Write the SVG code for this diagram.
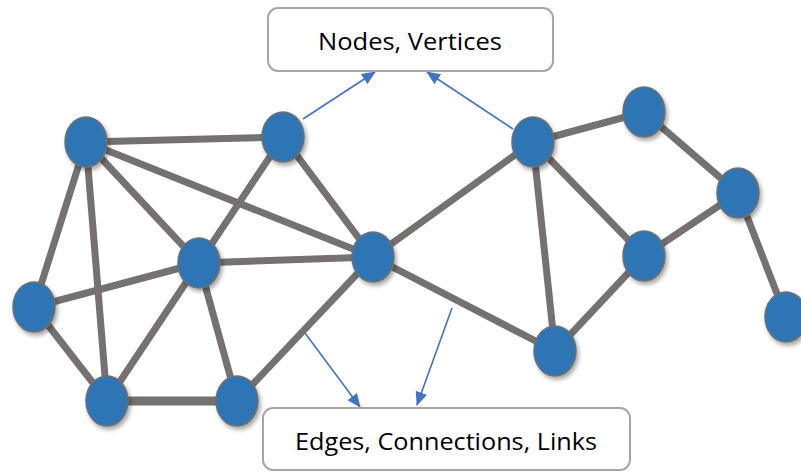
<svg xmlns="http://www.w3.org/2000/svg" width="801" height="472" viewBox="0 0 801 472">
<style>
.edge{stroke:#767171;stroke-width:7;fill:none}
.node{fill:#2E75B6;stroke:#6f6f6f;stroke-width:1.5;filter:url(#sh)}
.arrow{stroke:#4472C4;stroke-width:1.6;fill:none;marker-end:url(#ah)}
.box{fill:#fff;stroke:#a6a6a6;stroke-width:2}
.lbl{font-family:"Open Sans","Liberation Sans",sans-serif;font-size:24px;fill:#000;text-anchor:middle}
</style>
<defs>
<filter id="sh" x="-30%" y="-30%" width="170%" height="170%">
<feDropShadow dx="2" dy="3" stdDeviation="2" flood-color="#000" flood-opacity="0.35"/>
</filter>
<marker id="ah" markerWidth="14" markerHeight="12" refX="13" refY="6" orient="auto" markerUnits="userSpaceOnUse">
<path d="M0,0 L14,6 L0,12 Z" fill="#4472C4"/>
</marker>
</defs>
<g id="connectors">
<line class="edge" x1="86" y1="142" x2="283" y2="137"/>
<line class="edge" x1="86" y1="142" x2="373" y2="257"/>
<line class="edge" x1="86" y1="142" x2="199" y2="263"/>
<line class="edge" x1="86" y1="142" x2="34" y2="307"/>
<line class="edge" x1="86" y1="142" x2="107" y2="401"/>
<line class="edge" x1="283" y1="137" x2="199" y2="263"/>
<line class="edge" x1="283" y1="137" x2="373" y2="257"/>
<line class="edge" x1="199" y1="263" x2="373" y2="257"/>
<line class="edge" x1="199" y1="263" x2="34" y2="307"/>
<line class="edge" x1="199" y1="263" x2="107" y2="401"/>
<line class="edge" x1="199" y1="263" x2="237" y2="401"/>
<line class="edge" x1="34" y1="307" x2="107" y2="401"/>
<line class="edge" x1="107" y1="401" x2="237" y2="401" style="stroke-width:9"/>
<line class="edge" x1="237" y1="401" x2="373" y2="257"/>
<line class="edge" x1="373" y1="257" x2="533" y2="142"/>
<line class="edge" x1="373" y1="257" x2="555" y2="351"/>
<line class="edge" x1="533" y1="142" x2="644" y2="112"/>
<line class="edge" x1="533" y1="142" x2="555" y2="351"/>
<line class="edge" x1="533" y1="142" x2="644" y2="256"/>
<line class="edge" x1="644" y1="112" x2="738" y2="193"/>
<line class="edge" x1="738" y1="193" x2="644" y2="256"/>
<line class="edge" x1="738" y1="193" x2="786" y2="317"/>
<line class="edge" x1="644" y1="256" x2="555" y2="351"/>
<line class="arrow" x1="303" y1="119" x2="375" y2="72"/>
<line class="arrow" x1="513" y1="129" x2="427" y2="72"/>
<line class="arrow" x1="305" y1="333" x2="360" y2="407"/>
<line class="arrow" x1="452" y1="308" x2="417" y2="405"/>
</g>
<g id="n1"><ellipse class="node" cx="86" cy="142" rx="21" ry="25"/></g>
<g id="n2"><ellipse class="node" cx="283" cy="137" rx="21" ry="25"/></g>
<g id="n3"><ellipse class="node" cx="199" cy="263" rx="21" ry="25"/></g>
<g id="n4"><ellipse class="node" cx="34" cy="307" rx="21" ry="25"/></g>
<g id="n5"><ellipse class="node" cx="107" cy="401" rx="21" ry="25"/></g>
<g id="n6"><ellipse class="node" cx="237" cy="401" rx="21" ry="25"/></g>
<g id="n7"><ellipse class="node" cx="373" cy="257" rx="21" ry="25"/></g>
<g id="n8"><ellipse class="node" cx="533" cy="142" rx="21" ry="25"/></g>
<g id="n9"><ellipse class="node" cx="644" cy="112" rx="21" ry="25"/></g>
<g id="n10"><ellipse class="node" cx="738" cy="193" rx="21" ry="25"/></g>
<g id="n11"><ellipse class="node" cx="644" cy="256" rx="21" ry="25"/></g>
<g id="n12"><ellipse class="node" cx="555" cy="351" rx="21" ry="25"/></g>
<g id="n13"><ellipse class="node" cx="786" cy="317" rx="21" ry="25"/></g>
<g id="nodes-label">
<rect class="box" x="268" y="8" width="285" height="63" rx="10"/>
<text class="lbl" x="410" y="50" textLength="184" lengthAdjust="spacingAndGlyphs">Nodes, Vertices</text>
</g>
<g id="edges-label">
<rect class="box" x="263" y="408" width="367" height="62" rx="10"/>
<text class="lbl" x="446" y="450" textLength="302" lengthAdjust="spacingAndGlyphs">Edges, Connections, Links</text>
</g>
</svg>
